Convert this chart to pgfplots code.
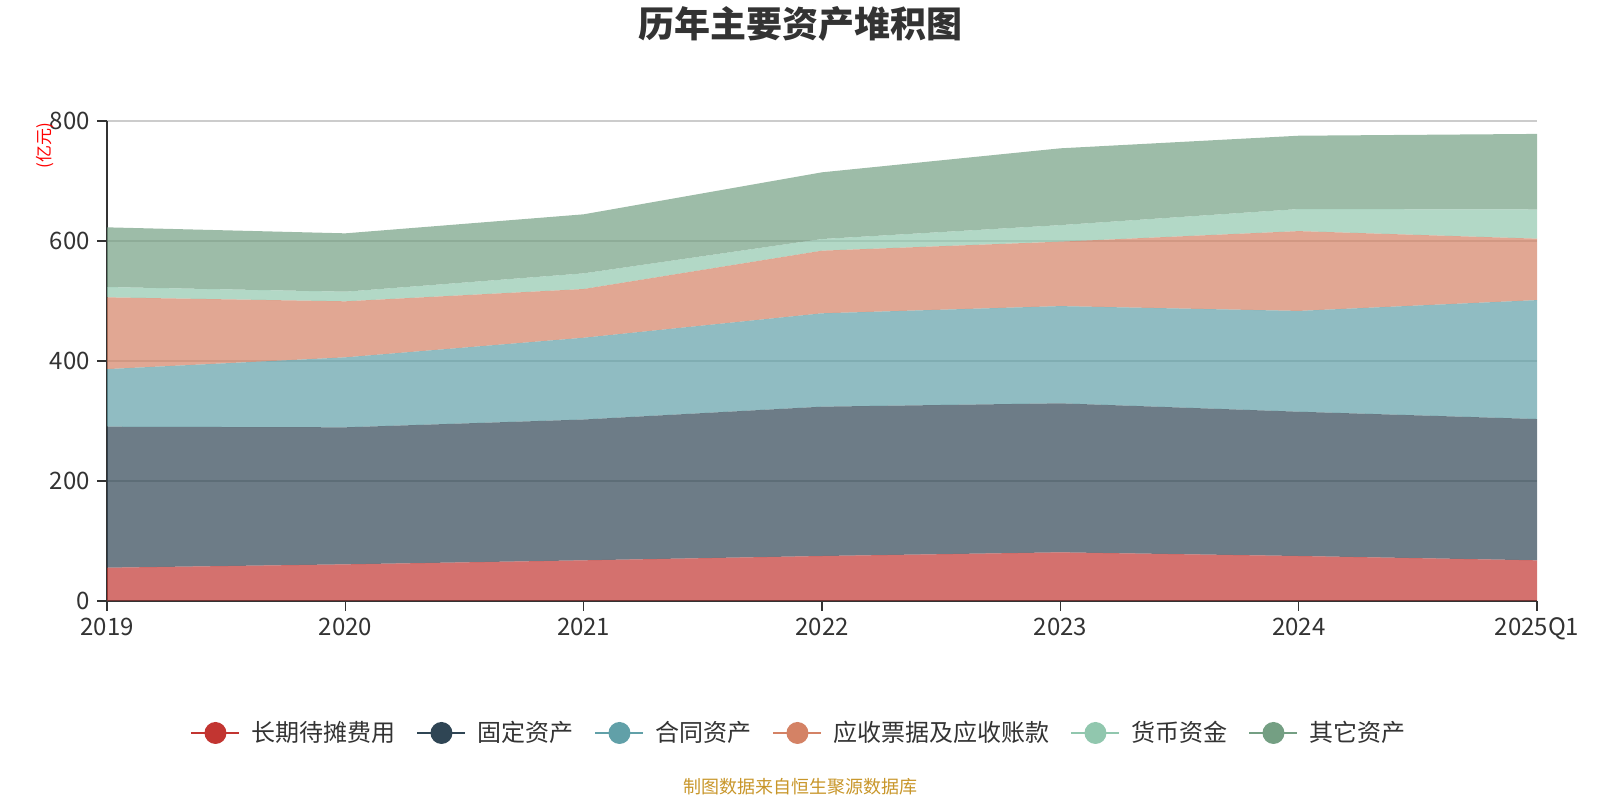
\documentclass[border=0pt]{standalone}
\usepackage{fontspec}
\setmainfont{Noto Sans CJK SC}
\usepackage{pgfplots}
\pgfplotsset{compat=1.18}
\definecolor{c1}{HTML}{C23531}
\definecolor{c2}{HTML}{2F4554}
\definecolor{c3}{HTML}{61A0A8}
\definecolor{c4}{HTML}{D48265}
\definecolor{c5}{HTML}{91C7AE}
\definecolor{c6}{HTML}{749F83}
\definecolor{axiscol}{HTML}{333333}
\definecolor{labcol}{HTML}{333333}
\definecolor{gridcol}{HTML}{CCCCCC}
\definecolor{footcol}{HTML}{C8962A}
\newcommand{\legimg}[1]{\draw[#1,draw opacity=1,line width=1pt] (0pt,0pt) -- (24pt,0pt); \fill[#1,fill opacity=1] (12pt,0pt) circle (5.5pt);}
\begin{document}
\begin{tikzpicture}[x=1pt,y=1pt]
\begin{axis}[
  at={(53.5pt,99.65pt)}, anchor=south west, scale only axis,
  width=715pt, height=240pt,
  xmin=0, xmax=6, ymin=0, ymax=800,
  axis x line*=bottom, axis y line*=left,
  axis line style={color=axiscol,line width=0.8pt},
  xtick={0,1,2,3,4,5,6},
  xticklabels={2019,2020,2021,2022,2023,2024,2025Q1},
  ytick={0,200,400,600,800},
  tick align=outside, major tick length=5pt,
  tick style={color=axiscol,line width=0.8pt},
  ymajorgrids, major grid style={color=gridcol,line width=0.8pt},
  ticklabel style={font=\fontsize{12}{14}\selectfont, text=labcol},
  /pgf/number format/assume math mode=true,
  stack plots=y,
  legend columns=6,
  legend cell align=left,
  legend style={at={(0.4846,-0.2756)}, anchor=center, draw=none, fill=none,
    font=\fontsize{12}{14}\selectfont, text=labcol,
    /tikz/every odd column/.append style={column sep=3.5pt},
    /tikz/every even column/.append style={column sep=8.5pt}},
]
\addplot[fill=c1, fill opacity=0.7, draw=none, legend image code/.code={\legimg{c1}}]
  coordinates {(0,55) (1,60.6) (2,67.3) (3,74.5) (4,80.6) (5,74.5) (6,67.3)} \closedcycle;
\addlegendentry{长期待摊费用}
\addplot[fill=c2, fill opacity=0.7, draw=none, legend image code/.code={\legimg{c2}}]
  coordinates {(0,235) (1,228.4) (2,234.7) (3,248.9) (4,248.4) (5,240.5) (6,235.5)} \closedcycle;
\addlegendentry{固定资产}
\addplot[fill=c3, fill opacity=0.7, draw=none, legend image code/.code={\legimg{c3}}]
  coordinates {(0,96) (1,116.6) (2,136.3) (3,155.6) (4,162) (5,168) (6,198.2)} \closedcycle;
\addlegendentry{合同资产}
\addplot[fill=c4, fill opacity=0.7, draw=none, legend image code/.code={\legimg{c4}}]
  coordinates {(0,119.6) (1,93.4) (2,81.2) (3,104.4) (4,107.4) (5,133) (6,102.4)} \closedcycle;
\addlegendentry{应收票据及应收账款}
\addplot[fill=c5, fill opacity=0.7, draw=none, legend image code/.code={\legimg{c5}}]
  coordinates {(0,17.2) (1,16) (2,26.1) (3,19.4) (4,27.6) (5,36.8) (6,48.6)} \closedcycle;
\addlegendentry{货币资金}
\addplot[fill=c6, fill opacity=0.7, draw=none, legend image code/.code={\legimg{c6}}]
  coordinates {(0,99.5) (1,97.3) (2,98.4) (3,111.2) (4,128) (5,122.2) (6,126)} \closedcycle;
\addlegendentry{其它资产}
\end{axis}
\node[text=labcol] at (400pt,388pt) {\fontsize{18}{20}\selectfont\bfseries 历年主要资产堆积图};
\node[rotate=90, text=red] at (22.5pt,327.2pt) {\fontsize{8.5}{10}\selectfont (亿元)};
\node[text=footcol] at (400pt,6.75pt) {\fontsize{9}{11}\selectfont 制图数据来自恒生聚源数据库};
\pgfresetboundingbox
\path[use as bounding box] (0pt,0pt) rectangle (800pt,400pt);
\end{tikzpicture}
\end{document}
